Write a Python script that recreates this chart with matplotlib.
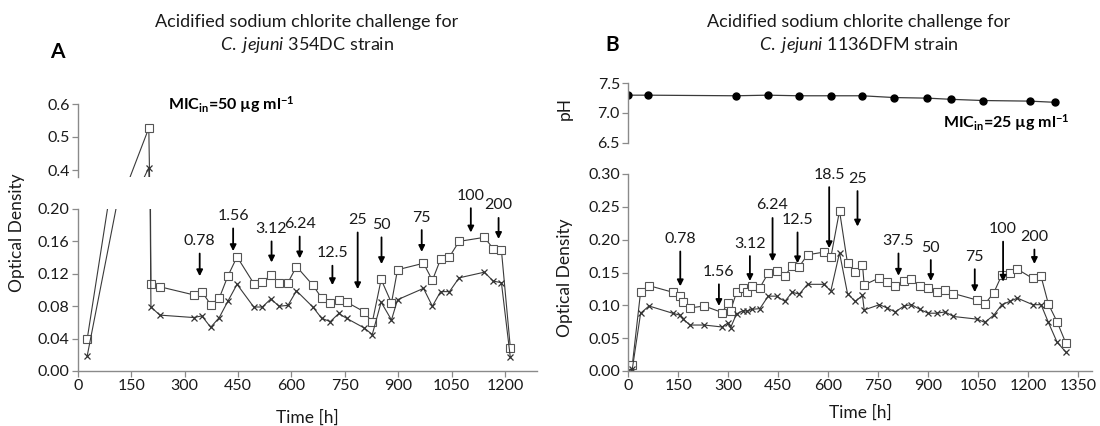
import numpy as np
import matplotlib
matplotlib.use("Agg")
from matplotlib import pyplot as plt

plt.rcParams['font.family'] = ['Lato', 'DejaVu Sans']
plt.rcParams['mathtext.fontset'] = 'custom'
plt.rcParams['mathtext.rm'] = 'Lato'
plt.rcParams['mathtext.it'] = 'Lato:italic'
plt.rcParams['mathtext.bf'] = 'Lato:bold'

# ---- panel A : 354DC ----
a_time = [26, 199, 205, 230, 325, 348, 373, 397, 421, 447, 494, 518, 542, 565, 590, 614, 660, 685,
          709, 733, 755, 805, 827, 852, 881, 898, 971, 996, 1019, 1044, 1071, 1142, 1167, 1190, 1215]
a_od_sq = [0.040, 0.527, 0.108, 0.104, 0.094, 0.098, 0.082, 0.090, 0.117, 0.141, 0.108, 0.110,
           0.118, 0.109, 0.109, 0.129, 0.106, 0.090, 0.084, 0.088, 0.085, 0.073, 0.060, 0.113,
           0.084, 0.125, 0.133, 0.112, 0.138, 0.141, 0.160, 0.165, 0.151, 0.149, 0.029]
a_od_x = [0.019, 0.407, 0.079, 0.069, 0.066, 0.068, 0.054, 0.066, 0.086, 0.107, 0.079, 0.079,
          0.089, 0.080, 0.081, 0.099, 0.079, 0.065, 0.061, 0.071, 0.065, 0.053, 0.045, 0.085,
          0.063, 0.088, 0.102, 0.080, 0.098, 0.098, 0.115, 0.122, 0.111, 0.109, 0.017]
a_arrow_lbl = ["0.78", "1.56", "3.12", "6.24", "12.5", "25", "50", "75", "100", "200"]
a_arrow_t = [342, 436, 544, 623, 715, 786, 853, 966, 1104, 1182]
a_arrow_top = [0.145, 0.176, 0.160, 0.166, 0.130, 0.171, 0.165, 0.174, 0.201, 0.189]
a_arrow_tip = [0.117, 0.148, 0.134, 0.139, 0.106, 0.101, 0.132, 0.147, 0.171, 0.163]

# ---- panel B : 1136DFM ----
b_time = [0, 12, 37, 62, 133, 155, 165, 185, 228, 282, 298, 307, 325, 345, 355, 372, 395, 420,
          445, 470, 492, 513, 538, 587, 608, 634, 658, 681, 703, 708, 754, 777, 801, 828, 850,
          875, 900, 926, 951, 976, 1047, 1070, 1097, 1121, 1145, 1168, 1214, 1239, 1261, 1287, 1313]
b_od_sq = [0.000, 0.009, 0.121, 0.130, 0.120, 0.114, 0.105, 0.096, 0.099, 0.089, 0.103, 0.092,
           0.120, 0.127, 0.120, 0.130, 0.127, 0.149, 0.153, 0.145, 0.160, 0.159, 0.177, 0.181,
           0.173, 0.244, 0.164, 0.151, 0.162, 0.131, 0.142, 0.135, 0.129, 0.137, 0.140, 0.129,
           0.126, 0.121, 0.123, 0.118, 0.108, 0.102, 0.119, 0.146, 0.149, 0.155, 0.141, 0.144,
           0.102, 0.075, 0.043]
b_od_x = [0.000, 0.003, 0.088, 0.099, 0.088, 0.085, 0.079, 0.070, 0.070, 0.067, 0.073, 0.066,
          0.087, 0.092, 0.091, 0.094, 0.095, 0.114, 0.114, 0.106, 0.120, 0.117, 0.132, 0.132,
          0.122, 0.180, 0.118, 0.106, 0.115, 0.093, 0.101, 0.096, 0.090, 0.099, 0.101, 0.094,
          0.088, 0.088, 0.090, 0.083, 0.079, 0.074, 0.085, 0.101, 0.106, 0.111, 0.101, 0.101,
          0.074, 0.044, 0.029]
ph_time = [0, 60, 323, 418, 512, 608, 702, 798, 898, 970, 1065, 1205, 1280]
ph_vals = [7.30, 7.30, 7.29, 7.30, 7.29, 7.29, 7.29, 7.26, 7.25, 7.23, 7.21, 7.20, 7.18]
b_arrow_lbl = ["0.78", "1.56", "3.12", "6.24", "12.5", "18.5", "25", "37.5", "50", "75", "100", "200"]
b_arrow_t = [156, 272, 365, 433, 508, 603, 688, 811, 908, 1040, 1125, 1219]
b_arrow_top = [0.182, 0.132, 0.175, 0.233, 0.211, 0.280, 0.274, 0.179, 0.169, 0.155, 0.197, 0.185]
b_arrow_tip = [0.129, 0.099, 0.137, 0.167, 0.164, 0.187, 0.220, 0.145, 0.137, 0.120, 0.136, 0.163]

W, H = 1100, 426
SPINE = "#8a8a8a"
LINE = "#3a3a3a"
TXT = "#1a1a1a"


def rect(l, r, top, bot):
    # pixel box -> figure fraction
    return [l / W, 1 - bot / H, (r - l) / W, (bot - top) / H]


def style(ax, bottom=True):
    for s in ["top", "right"]:
        ax.spines[s].set_visible(False)
    ax.spines["bottom"].set_visible(bottom)
    for s in ["left", "bottom"]:
        ax.spines[s].set_color(SPINE)
        ax.spines[s].set_linewidth(1.0)
    ax.tick_params(direction="out", length=4, width=0.9, color=SPINE,
                   labelsize=11.5, labelcolor=TXT, pad=2)
    ax.patch.set_alpha(0)


def plot_od(ax, t, sq, xx):
    ax.plot(t, sq, color=LINE, lw=0.8, marker="s", ms=5.5, mfc="white",
            mec="#555555", mew=0.8)
    ax.plot(t, xx, color=LINE, lw=0.8, marker="x", ms=4.5, mec="#333333", mew=0.9)


def arrows(ax, lbl, t, top, tip):
    for l, x, y0, y1 in zip(lbl, t, top, tip):
        ax.annotate("", xy=(x, y1), xytext=(x, y0), annotation_clip=False,
                    arrowprops=dict(arrowstyle="-|>", color="black", lw=1.3,
                                    mutation_scale=9, shrinkA=0, shrinkB=0))
        ax.annotate(l, xy=(x, y0), xytext=(0, 9), textcoords="offset points",
                    ha="center", va="center", fontsize=11.5, color=TXT,
                    annotation_clip=False)


fig = plt.figure(figsize=(W / 100, H / 100), dpi=100)

# panel A, broken y axis
axA = fig.add_axes(rect(78, 537, 209, 371))
axA_top = fig.add_axes(rect(78, 537, 104, 176.6), sharex=axA)
for ax in (axA, axA_top):
    plot_od(ax, a_time, a_od_sq, a_od_x)
    style(ax, bottom=(ax is axA))
axA.set_xlim(0, 1290)
axA.set_xticks(np.arange(0, 1201, 150))
axA.set_ylim(0, 0.2)
axA.set_yticks(np.arange(0, 0.201, 0.04))
axA.set_yticklabels([f"{v:.2f}" for v in np.arange(0, 0.201, 0.04)])
axA_top.set_ylim(0.38, 0.6)
axA_top.set_yticks([0.4, 0.5, 0.6])
axA_top.set_yticklabels(["0.4", "0.5", "0.6"])
axA_top.tick_params(axis="x", bottom=False, labelbottom=False)
arrows(axA, a_arrow_lbl, a_arrow_t, a_arrow_top, a_arrow_tip)

# panel B, pH on top
axB = fig.add_axes(rect(628.3, 1091.7, 174, 371))
plot_od(axB, b_time, b_od_sq, b_od_x)
style(axB)
axB.set_xlim(0, 1391)
axB.set_xticks(np.arange(0, 1351, 150))
axB.set_ylim(0, 0.30)
axB.set_yticks(np.arange(0, 0.301, 0.05))
axB.set_yticklabels([f"{v:.2f}" for v in np.arange(0, 0.301, 0.05)])
arrows(axB, b_arrow_lbl, b_arrow_t, b_arrow_top, b_arrow_tip)

axPH = fig.add_axes(rect(628.3, 1091.7, 83.3, 142.7), sharex=axB)
axPH.plot(ph_time, ph_vals, color=LINE, lw=0.9, marker="o", ms=5, mfc="black", mec="black")
style(axPH, bottom=False)
axPH.set_ylim(6.5, 7.5)
axPH.set_yticks([6.5, 7.0, 7.5])
axPH.set_yticklabels(["6.5", "7.0", "7.5"])
axPH.tick_params(axis="x", bottom=False, labelbottom=False)


def ftext(x, y, s, **kw):
    fig.text(x / W, 1 - y / H, s, **kw)


# titles and panel letters
ftext(307, 22, "Acidified sodium chlorite challenge for", ha="center", va="center", fontsize=13, color=TXT)
ftext(307, 45, r"$\mathit{C.}$ $\mathit{jejuni}$ 354DC strain", ha="center", va="center", fontsize=13, color=TXT)
ftext(859, 22, "Acidified sodium chlorite challenge for", ha="center", va="center", fontsize=13, color=TXT)
ftext(859, 45, r"$\mathit{C.}$ $\mathit{jejuni}$ 1136DFM strain", ha="center", va="center", fontsize=13, color=TXT)
ftext(57, 52, "A", ha="center", va="center", fontsize=15, fontweight="bold", color="black")
ftext(612, 45, "B", ha="center", va="center", fontsize=15, fontweight="bold", color="black")

ftext(168, 105, r"MIC$_{\mathbf{in}}$=50 µg ml$^{\mathbf{-1}}$", ha="left", va="center",
      fontsize=11.5, fontweight="bold", color="black")
ftext(1070, 123, r"MIC$_{\mathbf{in}}$=25 µg ml$^{\mathbf{-1}}$", ha="right", va="center",
      fontsize=11.5, fontweight="bold", color="black")

# axis labels
ftext(17, 233, "Optical Density", rotation=90, ha="center", va="center", fontsize=12.5, color=TXT)
ftext(565, 278, "Optical Density", rotation=90, ha="center", va="center", fontsize=12.5, color=TXT)
ftext(565, 108, "pH", rotation=90, ha="center", va="center", fontsize=12.5, color=TXT)
ftext(307, 418, "Time [h]", ha="center", va="center", fontsize=12.5, color=TXT)
ftext(860, 413, "Time [h]", ha="center", va="center", fontsize=12.5, color=TXT)

fig.savefig("out.png", dpi=100)
